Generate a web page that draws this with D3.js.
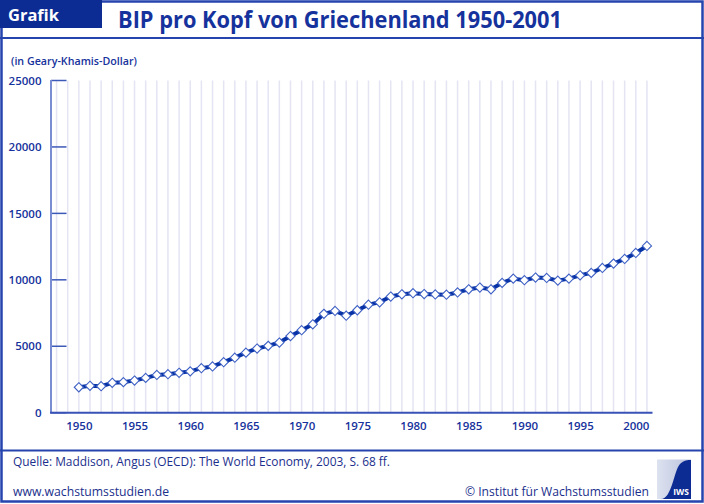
<!DOCTYPE html>
<html><head><meta charset="utf-8">
<script src="https://cdn.jsdelivr.net/npm/d3@7"></script>
<style>
html,body{margin:0;padding:0;background:#fff;}
svg{display:block;}
</style></head>
<body>
<svg id="chart" width="704" height="504"></svg>
<script>
// ---- data ----
const years = [1950,1951,1952,1953,1954,1955,1956,1957,1958,1959,1960,1961,1962,1963,1964,1965,1966,1967,1968,1969,1970,1971,1972,1973,1974,1975,1976,1977,1978,1979,1980,1981,1982,1983,1984,1985,1986,1987,1988,1989,1990,1991,1992,1993,1994,1995,1996,1997,1998,1999,2000,2001];
const gdpPerCapita = [1915,2022,1993,2250,2300,2420,2620,2840,2900,3000,3110,3350,3480,3800,4140,4520,4830,5030,5280,5770,6210,6650,7440,7655,7300,7710,8130,8310,8740,8910,8990,8930,8900,8880,9050,9290,9420,9290,9770,10090,9970,10170,10140,9940,10090,10340,10520,10890,11220,11570,12020,12550];
const yTicks = [0,5000,10000,15000,20000,25000];
const xTickLabels = [1950,1955,1960,1965,1970,1975,1980,1985,1990,1995,2000];
const gridYears = d3.range(1948, 2002);

const title = "BIP pro Kopf von Griechenland 1950-2001";
const unitLabel = "(in Geary-Khamis-Dollar)";
const sourceText = "Quelle: Maddison, Angus (OECD): The World Economy, 2003, S. 68 ff.";
const urlText = "www.wachstumsstudien.de";
const copyText = "© Institut für Wachstumsstudien";

// ---- colors ----
const frameBlue = "#2544ad";
const darkBlue = "#0c2c93";
const textBlue = "#16329c";
const lineBlue = "#0833a6";

const svg = d3.select("#chart");
const font = "'Open Sans', 'Noto Sans', sans-serif";

// frame
svg.append("rect").attr("x",1.5).attr("y",1.5).attr("width",701).attr("height",500)
  .attr("fill","#fff").attr("stroke",frameBlue).attr("stroke-width",2.5);
// header box
svg.append("rect").attr("x",0).attr("y",0).attr("width",102).attr("height",28).attr("fill",darkBlue);
svg.append("text").attr("x",8).attr("y",21).attr("fill","#fff")
  .attr("font-family",font).attr("font-weight",700).attr("font-size",16)
  .attr("textLength",51).attr("lengthAdjust","spacingAndGlyphs").text("Grafik");
svg.append("text").attr("x",118).attr("y",27.5).attr("fill",textBlue)
  .attr("font-family",font).attr("font-weight",700).attr("font-size",22.5)
  .attr("textLength",444).attr("lengthAdjust","spacingAndGlyphs").text(title);
// header / footer lines
svg.append("line").attr("x1",0).attr("x2",704).attr("y1",38).attr("y2",38).attr("stroke",frameBlue).attr("stroke-width",2);
svg.append("line").attr("x1",0).attr("x2",704).attr("y1",450.5).attr("y2",450.5).attr("stroke",frameBlue).attr("stroke-width",2);

// ---- scales ----
const x = d3.scaleLinear().domain([1947.5, 2001.5]).range([51, 652.5]);
const y = d3.scaleLinear().domain([0, 25000]).range([412.7, 80.5]);

// gridlines
svg.append("g").selectAll("line").data(gridYears).join("line")
  .attr("x1",d=>x(d)).attr("x2",d=>x(d)).attr("y1",y(25000)).attr("y2",y(0))
  .attr("stroke","#e4e4f3").attr("stroke-width",1.5);

// y axis
const yAxis = svg.append("g").attr("transform","translate(51,0)")
  .call(d3.axisLeft(y).tickValues(yTicks).tickSize(0).tickPadding(10).tickFormat(d3.format("d")));
yAxis.select(".domain").remove();
yAxis.selectAll(".tick text").attr("fill",textBlue).attr("font-family",font)
  .attr("font-weight",600).attr("font-size",11.5).attr("x",-9.5);
svg.append("g").selectAll("line").data(yTicks).join("line")
  .attr("x1",51).attr("x2",66.5).attr("y1",d=>y(d)).attr("y2",d=>y(d))
  .attr("stroke","#3d59b8").attr("stroke-width",1.5);
svg.append("line").attr("x1",51).attr("x2",51).attr("y1",y(25000)-0.5).attr("y2",y(0))
  .attr("stroke","#7b8dd2").attr("stroke-width",2);

// x axis
const xAxis = svg.append("g").attr("transform",`translate(0,${y(0)})`)
  .call(d3.axisBottom(x).tickValues(xTickLabels).tickSize(0).tickPadding(9).tickFormat(d3.format("d")));
xAxis.select(".domain").remove();
xAxis.selectAll(".tick text").attr("fill",textBlue).attr("font-family",font)
  .attr("font-weight",600).attr("font-size",11.5);
svg.append("line").attr("x1",50).attr("x2",x(2001.5)).attr("y1",y(0)).attr("y2",y(0))
  .attr("stroke","#3852b6").attr("stroke-width",2);

// unit label
svg.append("text").attr("x",11).attr("y",65).attr("fill",textBlue)
  .attr("font-family",font).attr("font-weight",600).attr("font-size",11)
  .attr("textLength",126).attr("lengthAdjust","spacingAndGlyphs").text(unitLabel);

// ---- series ----
const pts = years.map((yr,i)=>({yr, v:gdpPerCapita[i]}));
svg.append("path").datum(pts)
  .attr("d", d3.line().x(d=>x(d.yr)).y(d=>y(d.v)))
  .attr("fill","none").attr("stroke",lineBlue).attr("stroke-width",4).attr("stroke-linejoin","round");
svg.append("g").selectAll("path").data(pts).join("path")
  .attr("transform",d=>`translate(${x(d.yr)},${y(d.v)})`)
  .attr("d","M0,-4.6L4.6,0L0,4.6L-4.6,0Z")
  .attr("fill","#fff").attr("stroke","#3f61c4").attr("stroke-width",1.1);

// ---- footer ----
svg.append("text").attr("x",13).attr("y",466).attr("fill","#1b2f8c")
  .attr("font-family",font).attr("font-size",12)
  .attr("textLength",377).attr("lengthAdjust","spacingAndGlyphs").text(sourceText);
svg.append("text").attr("x",13).attr("y",496).attr("fill","#1b2f8c")
  .attr("font-family",font).attr("font-size",12)
  .attr("textLength",156).attr("lengthAdjust","spacingAndGlyphs").text(urlText);
svg.append("text").attr("x",465).attr("y",496).attr("fill","#1b2f8c")
  .attr("font-family",font).attr("font-size",12)
  .attr("textLength",184).attr("lengthAdjust","spacingAndGlyphs").text(copyText);

// logo
const logo = svg.append("g");
const lg = svg.append("defs").append("linearGradient").attr("id","lg").attr("x1","0").attr("x2","1");
lg.append("stop").attr("offset","0").attr("stop-color","#dde2ef");
lg.append("stop").attr("offset","1").attr("stop-color","#b9c2de");
logo.append("rect").attr("x",657).attr("y",459.5).attr("width",34).attr("height",39.5).attr("fill","url(#lg)");
logo.append("path").attr("d","M661,499 C672,499 674,470 680,464 C684,460 688,460 691,460 L691,499 Z").attr("fill",darkBlue);
logo.append("text").attr("x",689).attr("y",494.5).attr("text-anchor","end").attr("fill","#fff")
  .attr("font-family",font).attr("font-weight",700).attr("font-size",8.5).text("IWS");
</script>
</body></html>
